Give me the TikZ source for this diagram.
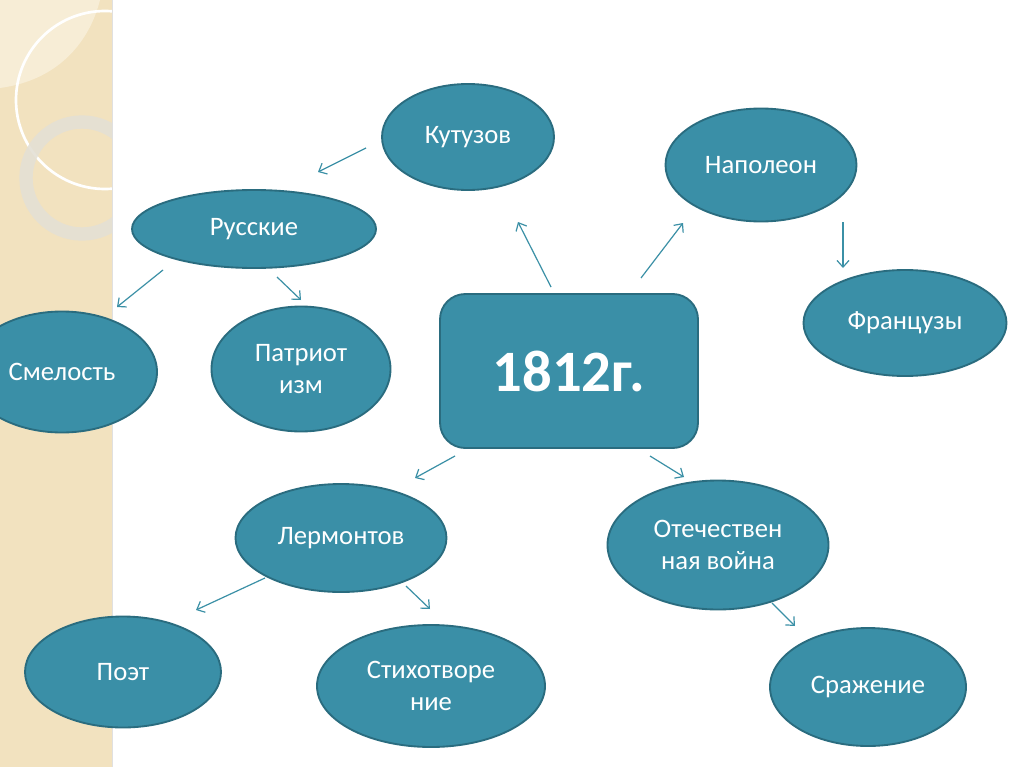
\documentclass[tikz,border=0pt]{standalone}
\usepackage{fontspec}
\setmainfont{Carlito}
\usetikzlibrary{shapes.geometric,arrows.meta,patterns}
\definecolor{tealfill}{HTML}{3A8FA7}
\definecolor{tealline}{HTML}{2A6C7F}
\definecolor{arrowc}{HTML}{3B90A6}
\definecolor{beige}{HTML}{F2E2BF}
\definecolor{beigelight}{HTML}{F7EDD6}
\definecolor{ringc}{HTML}{E4E0D5}
\tikzset{
  ell/.style 2 args={ellipse, draw=tealline, line width=1.4pt, fill=tealfill,
    text=white, font=\fontsize{20}{24.5}\selectfont, align=center, inner sep=0pt,
    minimum width=#1*0.75pt, minimum height=#2*0.75pt},
  conn/.style={draw=arrowc, line width=0.9pt, -{Straight Barb[length=5pt,width=9pt]}},
}
\begin{document}
\begin{tikzpicture}[x=0.75pt,y=-0.75pt]
\useasboundingbox (0,0) rectangle (1024,767);
\fill[white] (0,0) rectangle (1024,767);
% decorative strip
\begin{scope}
\clip (0,0) rectangle (112,767);
\fill[beige] (0,0) rectangle (112,767);
\fill[beigelight] (0,0) -- (100,0) .. controls (90,40) and (60,80) .. (0,88) -- cycle;
\draw[white, line width=2pt] (105,100) circle[radius=89];
\draw[ringc, line width=10pt, opacity=0.9] (82,178) circle[radius=56];
\end{scope}
\draw[black!12, line width=1pt] (112.5,0) -- (112.5,767);
% central node
\node[draw=tealline, line width=1.4pt, fill=tealfill, rounded corners=19pt,
  minimum width=258*0.75pt, minimum height=154*0.75pt, text=white,
  font=\fontsize{44}{48}\selectfont\bfseries] (c) at (569,371) {1812г.};
% ellipses
\node[ell={172}{106}] (kut) at (468,137) {Кутузов};
\node[ell={191}{113}] (nap) at (761,165) {Наполеон};
\node[ell={244}{78}] (rus) at (254,229) {Русские};
\node[ell={203}{106}] (fr) at (905,323) {Французы};
\node[ell={190}{121}] (sm) at (62,372) {Смелость};
\node[ell={179}{125}] (pat) at (301,369) {Патриот\\изм};
\node[ell={211}{108}] (ler) at (341,538) {Лермонтов};
\node[ell={221}{129}] (ot) at (718,545) {Отечествен\\ная война};
\node[ell={196}{111}] (poet) at (123,672) {Поэт};
\node[ell={228}{122}] (st) at (431,686) {Стихотворе\\ние};
\node[ell={196}{118}] (sr) at (868,687) {Сражение};
% arrow end points
\coordinate (a1s) at (366,148); \coordinate (a1e) at (318,172);
\coordinate (a2s) at (551,287); \coordinate (a2e) at (518,222);
\coordinate (a3s) at (641,278); \coordinate (a3e) at (683,223);
\coordinate (a4s) at (843,222); \coordinate (a4e) at (843,268);
\coordinate (a5s) at (163,270); \coordinate (a5e) at (117,307);
\coordinate (a6s) at (277,277); \coordinate (a6e) at (301,300);
\coordinate (a7s) at (455,456); \coordinate (a7e) at (415,478);
\coordinate (a8s) at (650,456); \coordinate (a8e) at (684,477);
\coordinate (a9s) at (265,578); \coordinate (a9e) at (196,610);
\coordinate (a10s) at (406,586); \coordinate (a10e) at (430,609);
\coordinate (a11s) at (772,603); \coordinate (a11e) at (795,626);
\foreach \i in {1,...,11} \draw[conn] (a\i s) -- (a\i e);
\end{tikzpicture}
\end{document}
